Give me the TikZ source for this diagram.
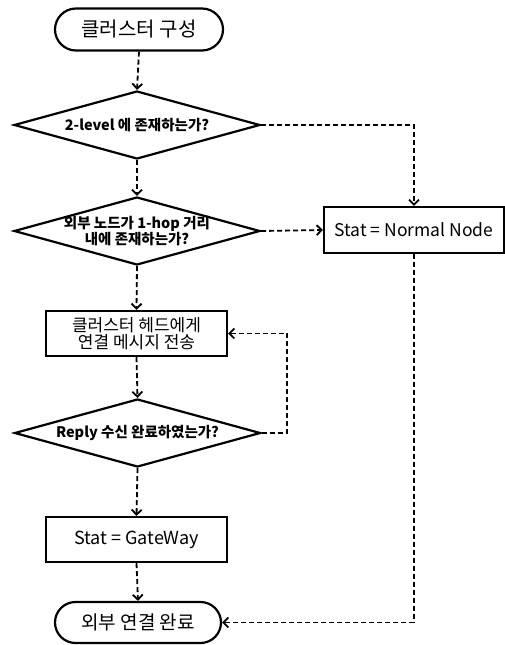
\documentclass[tikz,border=0pt]{standalone}
\usepackage{fontspec}
\setmainfont{Noto Sans CJK KR}
\usetikzlibrary{shapes.geometric,shapes.misc,arrows.meta}
\newcommand{\fs}[1]{\fontsize{#1}{#1}\selectfont}
\begin{document}
\begin{tikzpicture}[x=1pt,y=-1pt,
  term/.style={draw,line width=2.2pt,rounded rectangle,minimum width=168pt,minimum height=42pt,inner sep=0pt,font=\fs{20}},
  proc/.style={draw,line width=2.2pt,rectangle,minimum width=181pt,minimum height=45pt,inner sep=0pt,align=center,font=\fs{17}},
  dec/.style={draw,line width=2.2pt,diamond,minimum width=246pt,minimum height=68pt,inner sep=0pt},
  dtxt/.style={align=center,font=\bfseries\fs{14.5},inner sep=0pt},
  conn/.style={line width=1.8pt,dash pattern=on 5pt off 3pt,-{Straight Barb[length=5pt,width=10pt,line width=1.8pt]}}]
\useasboundingbox (0,0) rectangle (505,645);
\node[term] (start) at (139,29.5) {클러스터 구성};
\node[dec] (d1) at (137,125) {};
\node[dtxt] (d1t) at (d1) {2-level 에 존재하는가?};
\node[dec] (d2) at (137,231) {};
\node[dtxt] (d2t) at (d2) {외부 노드가 1-hop 거리\\내에 존재하는가?};
\node[proc,minimum width=180pt,minimum height=46pt,font=\fs{17.5}] (normal) at (414,230) {Stat = Normal Node};
\node[proc] (head) at (136.5,333.5) {클러스터 헤드에게\\연결 메시지 전송};
\node[dec] (d3) at (137.5,433) {};
\node[dtxt] (d3t) at (d3) {Reply 수신 완료하였는가?};
\node[proc,font=\fs{18}] (gw) at (136.5,539.5) {Stat = GateWay};
\node[term,minimum width=166pt,minimum height=41pt,font=\fs{19}] (end) at (138,622.5) {외부 연결 완료};
\coordinate (loop) at (287,433);
\draw[conn] (start.south) -- (d1.north);
\draw[conn] (d1.east) -| (normal.north);
\draw[conn] (d1.south) -- (d2.north);
\draw[conn] (d2.east) -- (normal.west);
\draw[conn] (d2.south) -- (head.north);
\draw[conn] (head.south) -- (d3.north);
\draw[conn] (d3.east) -- (loop) |- (head.east);
\draw[conn] (d3.south) -- (gw.north);
\draw[conn] (gw.south) -- (end.north);
\draw[conn] (normal.south) |- (end.east);
\end{tikzpicture}
\end{document}
